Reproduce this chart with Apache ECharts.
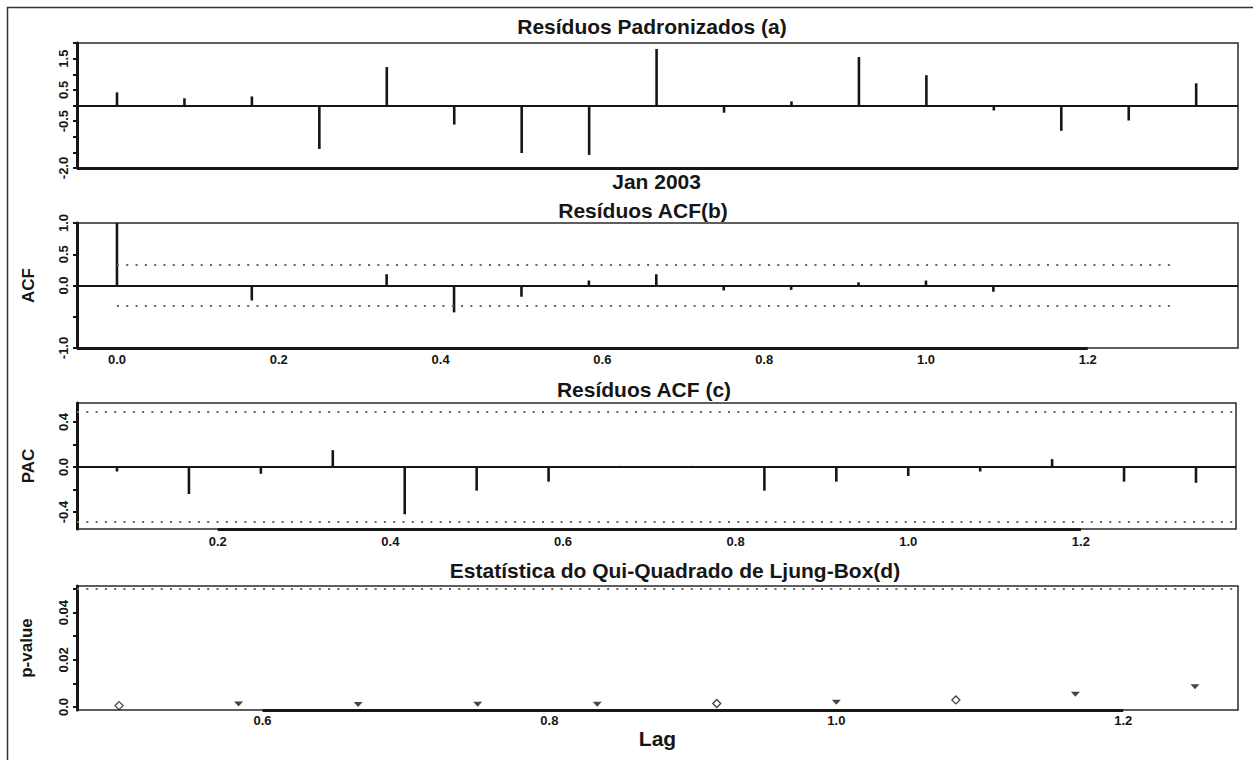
<!DOCTYPE html>
<html>
<head>
<meta charset="utf-8">
<script src="https://cdn.jsdelivr.net/npm/echarts@6/dist/echarts.min.js"></script>
<style>
html,body{margin:0;padding:0;background:#fff;}
#c{width:1253px;height:760px;}
</style>
</head>
<body>
<div id="c"></div>
<script>
// ---------- data ----------
const months = ['Mai 2002','Jun 2002','Jul 2002','Ago 2002','Set 2002','Out 2002','Nov 2002','Dez 2002',
  'Jan 2003','Fev 2003','Mar 2003','Abr 2003','Mai 2003','Jun 2003','Jul 2003','Ago 2003','Set 2003'];
const residuals = [0.42, 0.23, 0.29, -1.39, 1.23, -0.61, -1.52, -1.58, 1.81, -0.23, 0.13, 1.55, 0.97, -0.16, -0.81, -0.48, 0.71];
const monthLabelShown = [8];

const freq = 12;
const acfLags = [0, 1, 2, 3, 4, 5, 6, 7, 8, 9, 10, 11, 12, 13];
const acfValues = [1.0, -0.02, -0.24, -0.02, 0.18, -0.43, -0.18, 0.08, 0.18, -0.08, -0.07, 0.05, 0.08, -0.10];
const acfBand = 0.33;
const acfBandEndLag = 1.31;

const pacfLags = [1, 2, 3, 4, 5, 6, 7, 8, 9, 10, 11, 12, 13, 14, 15, 16];
const pacfValues = [-0.04, -0.24, -0.06, 0.15, -0.42, -0.21, -0.13, 0.01, 0.01, -0.21, -0.13, -0.08, -0.04, 0.07, -0.13, -0.14];
const pacfBand = 0.49;

const lbLags = [6, 7, 8, 9, 10, 11, 12, 13, 14, 15];
const lbPValues = [0.0006, 0.0013, 0.0011, 0.0012, 0.0012, 0.0015, 0.0020, 0.0030, 0.0054, 0.0086];
const lbOpenMarkers = [0, 5, 7];
const lbLevel = 0.05;

const titles = ['Resíduos Padronizados (a)', 'Resíduos ACF(b)', 'Resíduos ACF (c)', 'Estatística do Qui-Quadrado de Ljung-Box(d)'];

const ticksRes = [-2, -1.5, -1, -0.5, 0, 0.5, 1, 1.5, 2];
const labelsRes = [-2, -0.5, 0.5, 1.5];
const ticksAcfY = [-1, -0.5, 0, 0.5, 1];
const labelsAcfY = [-1, 0, 0.5, 1];
const ticksPacfY = [-0.4, -0.2, 0, 0.2, 0.4];
const labelsPacfY = [-0.4, 0, 0.4];
const ticksLbY = [0, 0.01, 0.02, 0.03, 0.04, 0.05];
const labelsLbY = [0, 0.02, 0.04];
const labelsAcfX = [0, 0.2, 0.4, 0.6, 0.8, 1.0, 1.2];
const labelsPacfX = [0.2, 0.4, 0.6, 0.8, 1.0, 1.2];
const labelsLbX = [0.6, 0.8, 1.0, 1.2];

// ---------- style ----------
const FONT = "'Liberation Sans', Arial, Helvetica, sans-serif";
const INK = '#161616';

const chart = echarts.init(document.getElementById('c'), null, {renderer: 'svg'});

const grids = [
  {left: 77, top: 43, width: 1161, height: 125},
  {left: 77, top: 223, width: 1161, height: 125},
  {left: 77, top: 403, width: 1159, height: 126},
  {left: 77, top: 586, width: 1161, height: 124}
].map(g => Object.assign(g, {show: true, borderColor: '#2a2a2a', borderWidth: 1.5, backgroundColor: 'transparent', containLabel: false}));

const xRanges = [[-0.593, 16.62], [-0.0494, 1.3857], [0.037, 1.3797], [0.4707, 1.28]];
const yRanges = [[-2, 2], [-1, 1], [-0.551, 0.569], [-0.00127, 0.0513]];

function fmt1(v) { return (Math.abs(v) < 1e-9 ? 0 : v).toFixed(1); }

const tickLabelStyle = {fontFamily: FONT, fontSize: 13, fontWeight: 'bold', color: INK};

function xAxisBase(i, labels, formatter, margin) {
  return {
    type: 'value', gridIndex: i, min: xRanges[i][0], max: xRanges[i][1],
    axisLine: {show: false, onZero: false}, axisTick: {show: false}, splitLine: {show: false},
    axisLabel: Object.assign({customValues: labels, formatter: formatter, margin: margin, showMinLabel: true, showMaxLabel: true}, tickLabelStyle)
  };
}
function yAxisBase(i, ticks, labels, formatter, name, nameGap, nameSize) {
  return {
    type: 'value', gridIndex: i, min: yRanges[i][0], max: yRanges[i][1],
    axisLine: {show: true, onZero: false, lineStyle: {color: INK, width: 3}},
    axisTick: {show: true, customValues: ticks, length: 4, lineStyle: {color: INK, width: 2}},
    splitLine: {show: false},
    axisLabel: Object.assign({customValues: labels, formatter: formatter, rotate: 90, margin: 7, showMinLabel: true, showMaxLabel: true}, tickLabelStyle),
    name: name, nameLocation: 'middle', nameRotate: 90, nameGap: nameGap,
    nameTextStyle: {fontFamily: FONT, fontSize: nameSize, fontWeight: 'bold', color: INK}
  };
}

const xAxes = [
  Object.assign(xAxisBase(0, monthLabelShown, v => months[Math.round(v)], 3), {
    axisLabel: {customValues: monthLabelShown, formatter: v => months[Math.round(v)], margin: 3,
      fontFamily: FONT, fontSize: 21, fontWeight: 'bold', color: INK}
  }),
  xAxisBase(1, labelsAcfX, fmt1, 5),
  xAxisBase(2, labelsPacfX, fmt1, 6),
  Object.assign(xAxisBase(3, labelsLbX, fmt1, 4), {
    name: 'Lag', nameLocation: 'middle', nameGap: 12,
    nameTextStyle: {fontFamily: FONT, fontSize: 21, fontWeight: 'bold', color: INK, verticalAlign: 'top'}
  })
];
const yAxes = [
  yAxisBase(0, ticksRes, labelsRes, fmt1, '', 40, 17),
  yAxisBase(1, ticksAcfY, labelsAcfY, fmt1, 'ACF', 40, 17),
  yAxisBase(2, ticksPacfY, labelsPacfY, fmt1, 'PAC', 40, 17),
  yAxisBase(3, ticksLbY, labelsLbY, v => (Math.abs(v) < 1e-12 ? '0.0' : v.toFixed(2)), 'p-value', 42, 17)
];

function stemRender(params, api) {
  const x = api.value(0), y = api.value(1);
  const p0 = api.coord([x, 0]);
  const p1 = api.coord([x, y]);
  return {type: 'line', shape: {x1: p0[0], y1: p0[1], x2: p1[0], y2: p1[1]},
    style: {stroke: INK, lineWidth: 2.6}};
}

const zeroLineStyle = {color: INK, width: 1.8, type: 'solid'};
const dotStyle = {color: '#666', width: 2, type: [2, 7.3]};
const thickStyle = {color: INK, width: 3.2, type: 'solid'};

function mlBase(data) {
  return {silent: true, symbol: ['none', 'none'], label: {show: false}, animation: false,
    emphasis: {disabled: true}, data: data};
}

const series = [
  {
    type: 'custom', xAxisIndex: 0, yAxisIndex: 0, renderItem: stemRender,
    data: residuals.map((v, i) => [i, v]), clip: false,
    markLine: mlBase([
      {yAxis: 0, lineStyle: zeroLineStyle},
      [{coord: [xRanges[0][0], yRanges[0][0]], lineStyle: thickStyle}, {coord: [xRanges[0][1], yRanges[0][0]]}]
    ])
  },
  {
    type: 'custom', xAxisIndex: 1, yAxisIndex: 1, renderItem: stemRender,
    data: acfLags.map((k, i) => [k / freq, acfValues[i]]), clip: false,
    markLine: mlBase([
      {yAxis: 0, lineStyle: zeroLineStyle},
      [{coord: [0, acfBand], lineStyle: dotStyle}, {coord: [acfBandEndLag, acfBand]}],
      [{coord: [0, -acfBand], lineStyle: dotStyle}, {coord: [acfBandEndLag, -acfBand]}],
      [{coord: [xRanges[1][0], yRanges[1][0]], lineStyle: thickStyle}, {coord: [1.2, yRanges[1][0]]}]
    ])
  },
  {
    type: 'custom', xAxisIndex: 2, yAxisIndex: 2, renderItem: stemRender,
    data: pacfLags.map((k, i) => [k / freq, pacfValues[i]]), clip: false,
    markLine: mlBase([
      {yAxis: 0, lineStyle: zeroLineStyle},
      {yAxis: pacfBand, lineStyle: dotStyle},
      {yAxis: -pacfBand, lineStyle: dotStyle},
      [{coord: [0.2, yRanges[2][0]], lineStyle: thickStyle}, {coord: [1.2, yRanges[2][0]]}]
    ])
  },
  {
    type: 'scatter', xAxisIndex: 3, yAxisIndex: 3, clip: false,
    data: lbLags.map((k, i) => {
      const open = lbOpenMarkers.includes(i);
      return {
        value: [k / freq, lbPValues[i]],
        symbol: open ? 'diamond' : 'path://M0,0 L10,0 L5,5.5 Z',
        symbolSize: open ? [8, 8] : [9, 5],
        itemStyle: open ? {color: '#fff', borderColor: INK, borderWidth: 1.3} : {color: INK, borderWidth: 0}
      };
    }),
    markLine: mlBase([
      {yAxis: lbLevel, lineStyle: dotStyle},
      [{coord: [0.6, yRanges[3][0]], lineStyle: thickStyle}, {coord: [1.2, yRanges[3][0]]}]
    ])
  }
];

const titlePos = [[652, 26], [643, 210], [644, 389], [675, 570]];
const graphic = [
  {type: 'rect', silent: true, z: 0, shape: {x: 7.5, y: 7.5, width: 1270, height: 780},
    style: {fill: 'none', stroke: '#333', lineWidth: 1.5}}
].concat(titles.map((t, i) => ({
  type: 'text', silent: true, z: 10,
  style: {x: titlePos[i][0], y: titlePos[i][1], text: t, fill: INK,
    font: 'bold 21px ' + FONT, align: 'center', verticalAlign: 'middle',
    textAlign: 'center', textVerticalAlign: 'middle'}
})));

chart.setOption({
  animation: false,
  backgroundColor: '#fff',
  grid: grids,
  xAxis: xAxes,
  yAxis: yAxes,
  series: series,
  graphic: graphic
});
</script>
</body>
</html>
